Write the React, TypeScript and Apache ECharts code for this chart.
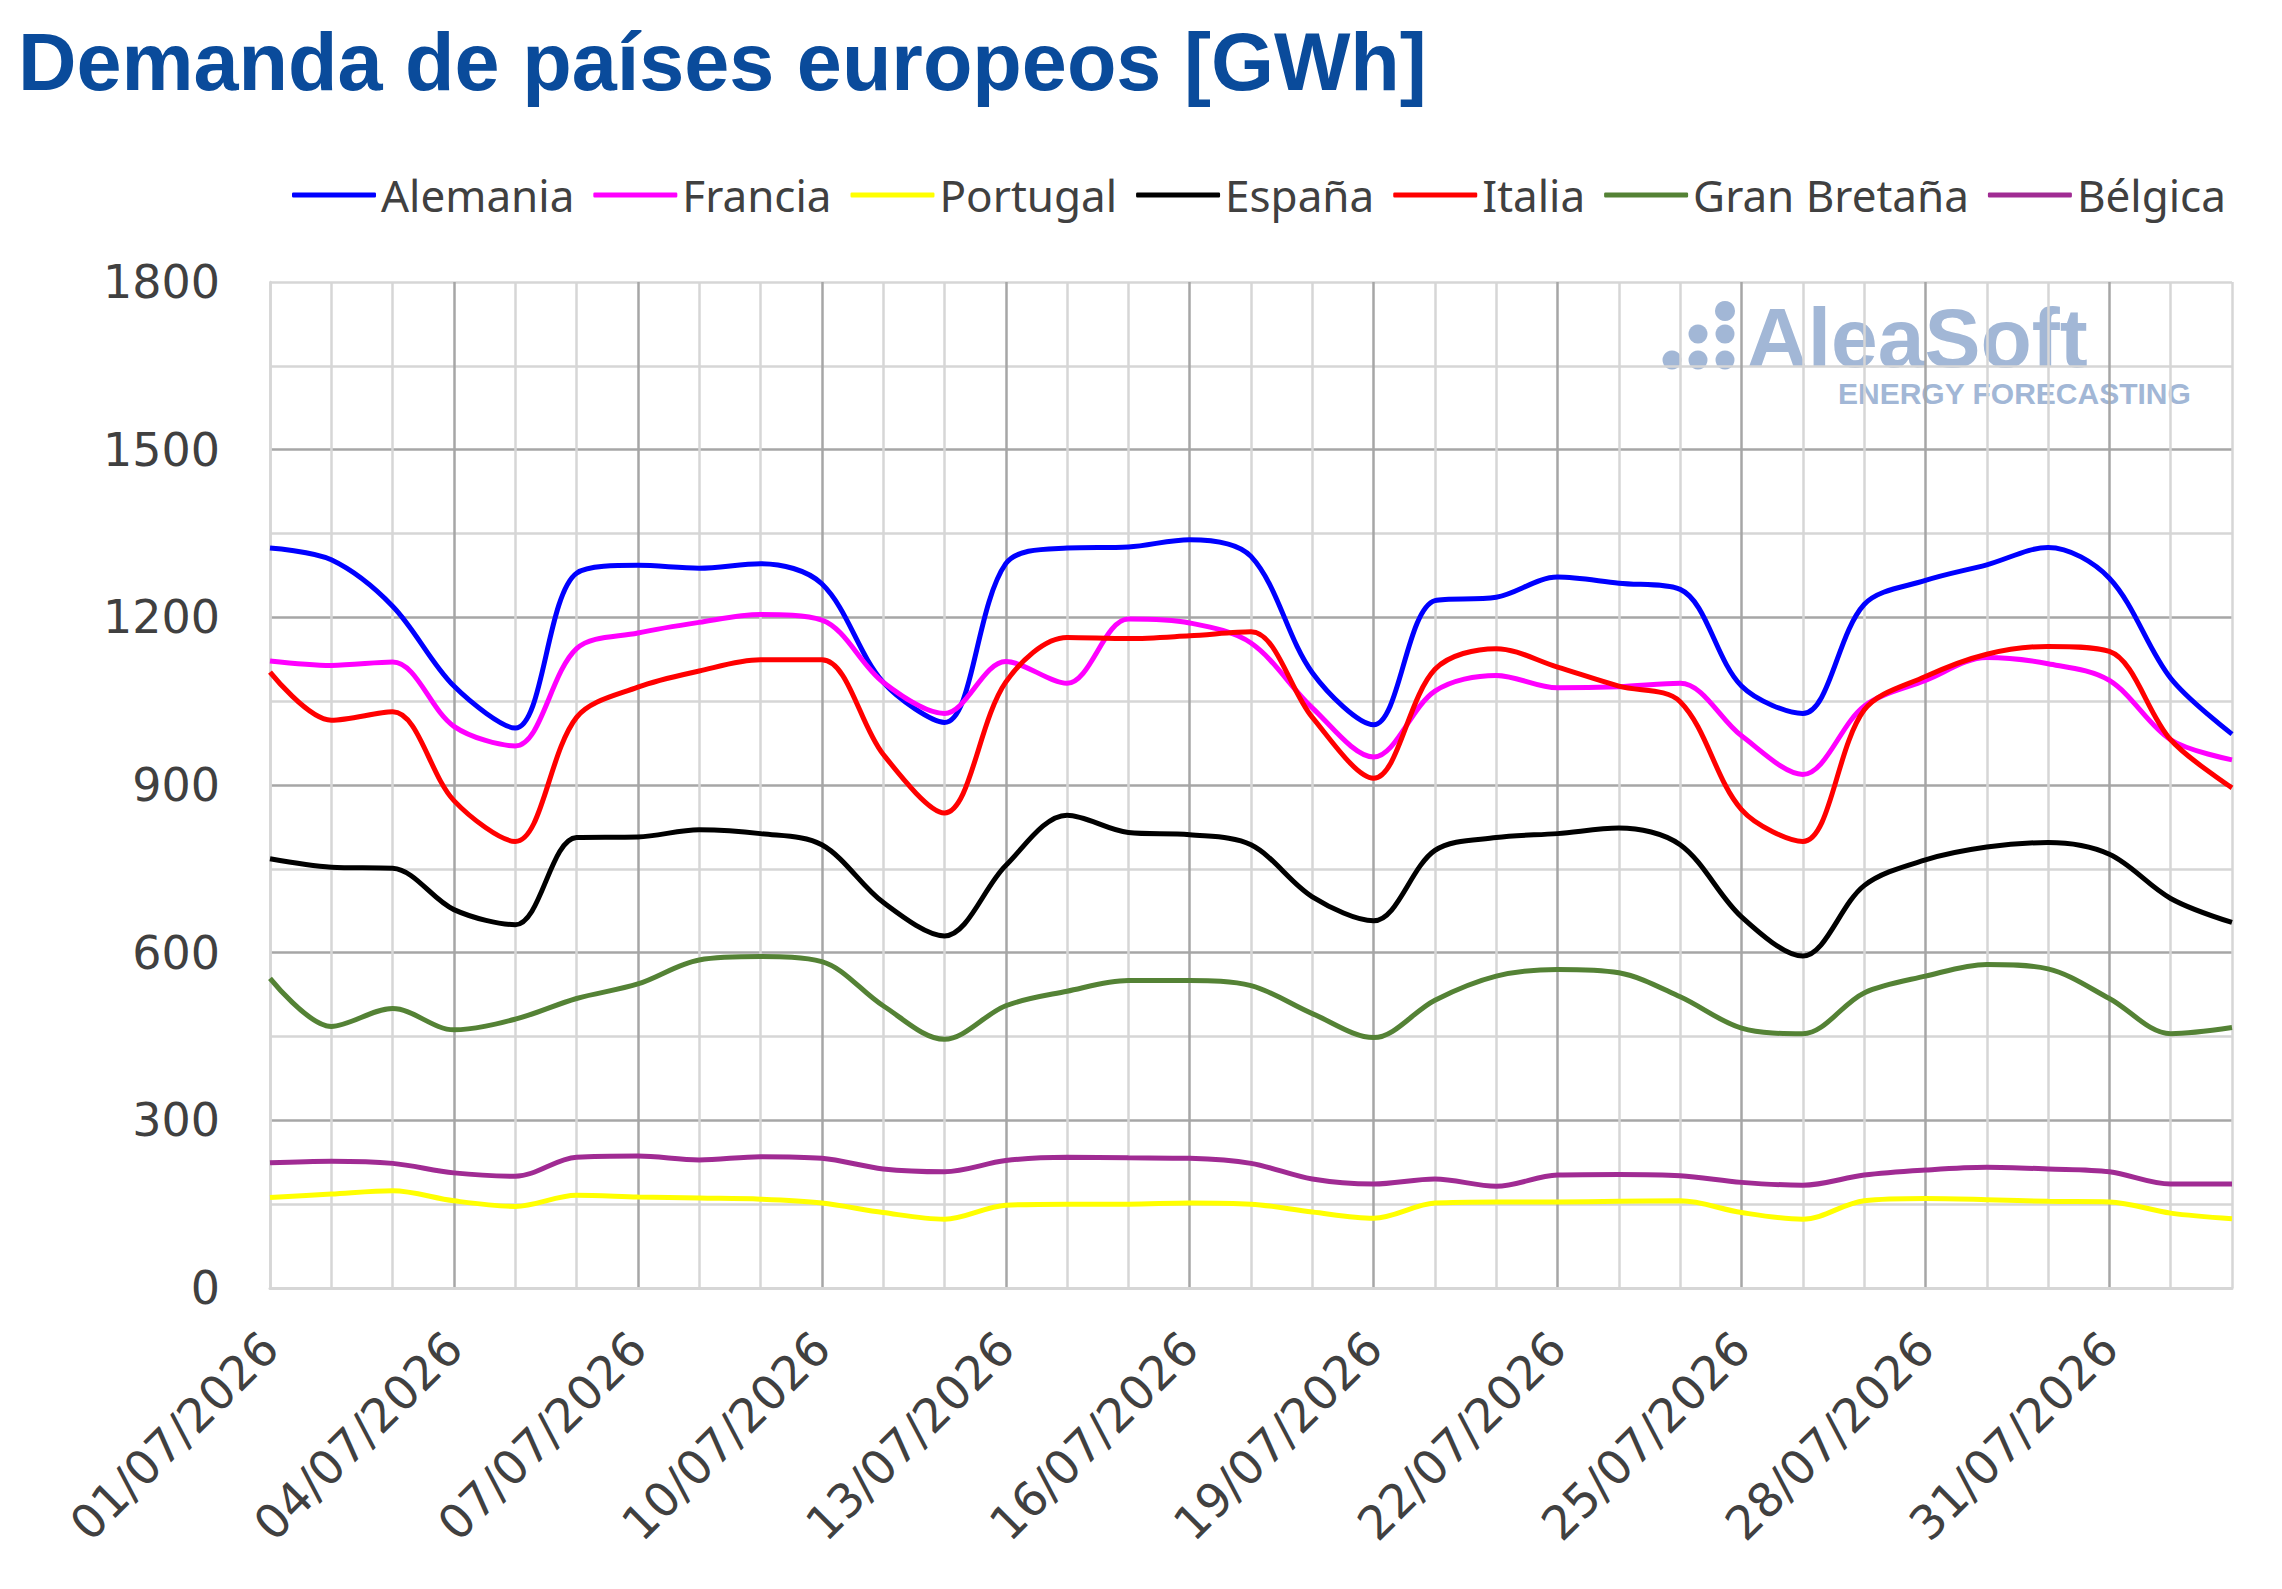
import React, { useEffect, useRef } from "react";
import * as echarts from "echarts";

const dates: string[] = [
  "01/07/2026", "02/07/2026", "03/07/2026", "04/07/2026", "05/07/2026", "06/07/2026",
  "07/07/2026", "08/07/2026", "09/07/2026", "10/07/2026", "11/07/2026", "12/07/2026",
  "13/07/2026", "14/07/2026", "15/07/2026", "16/07/2026", "17/07/2026", "18/07/2026",
  "19/07/2026", "20/07/2026", "21/07/2026", "22/07/2026", "23/07/2026", "24/07/2026",
  "25/07/2026", "26/07/2026", "27/07/2026", "28/07/2026", "29/07/2026", "30/07/2026",
  "31/07/2026", "01/08/2026", "02/08/2026",
];

const alemania = [1324, 1303, 1220, 1077, 1002, 1279, 1293, 1288, 1296, 1260, 1084, 1012, 1296, 1324, 1326, 1339, 1309, 1101, 1008, 1230, 1236, 1272, 1261, 1250, 1077, 1028, 1223, 1266, 1294, 1325, 1270, 1091, 991];
const francia = [1122, 1114, 1120, 1005, 970, 1144, 1172, 1191, 1205, 1195, 1084, 1028, 1121, 1082, 1197, 1190, 1154, 1038, 950, 1068, 1096, 1074, 1076, 1082, 988, 919, 1041, 1087, 1128, 1117, 1087, 981, 945];
const portugal = [162, 168, 174, 156, 146, 166, 163, 161, 159, 152, 135, 123, 148, 150, 150, 152, 150, 136, 125, 152, 154, 154, 155, 156, 135, 123, 156, 160, 158, 155, 154, 134, 124];
const espana = [768, 753, 751, 677, 650, 806, 807, 820, 813, 793, 690, 630, 756, 846, 815, 811, 793, 700, 657, 783, 806, 813, 823, 793, 664, 594, 720, 766, 789, 797, 776, 697, 654];
const italia = [1102, 1016, 1031, 872, 799, 1021, 1075, 1104, 1124, 1124, 955, 850, 1084, 1164, 1162, 1167, 1174, 1021, 912, 1107, 1144, 1111, 1077, 1049, 856, 799, 1034, 1094, 1134, 1148, 1139, 981, 895];
const granBretana = [554, 468, 500, 462, 481, 518, 544, 587, 593, 584, 505, 445, 505, 531, 550, 550, 541, 491, 448, 515, 558, 570, 564, 521, 465, 455, 528, 558, 579, 571, 518, 455, 466];
const belgica = [224, 227, 223, 206, 200, 234, 236, 229, 235, 232, 213, 208, 228, 234, 233, 232, 223, 195, 186, 195, 182, 202, 203, 201, 189, 184, 202, 211, 216, 213, 208, 186, 186];

const seriesNames = ["Alemania", "Francia", "Portugal", "España", "Italia", "Gran Bretaña", "Bélgica"];
const seriesData = [alemania, francia, portugal, espana, italia, granBretana, belgica];
const seriesColors = ["#0000ff", "#ff00ff", "#ffff00", "#000000", "#ff0000", "#548235", "#a02b93"];

const yMax = 1800;
const yMinorStep = 150;
const yLabelStep = 300;

const DARK = "#a6a6a6";
const LIGHT = "#d6d6d6";

export default function App() {
  const ref = useRef<HTMLDivElement>(null);

  useEffect(() => {
    document.body.style.margin = "0";
    if (!ref.current) return;
    const chart = echarts.init(ref.current, undefined, { renderer: "svg" });

    const xLineColors = dates.map((_, i) => (i !== 0 && i % 3 === 0 ? DARK : LIGHT));
    const yCount = yMax / yMinorStep + 1;
    const yLineColors: string[] = [];
    for (let i = 0; i < yCount; i++) {
      const v = i * yMinorStep;
      yLineColors.push(v !== 0 && v !== yMax && v % yLabelStep === 0 ? DARK : LIGHT);
    }

    const wm = "#a2b7d6";

    chart.setOption({
      animation: false,
      backgroundColor: "#ffffff",
      legend: {
        data: seriesNames,
        left: 287,
        top: 165,
        itemWidth: 84,
        itemHeight: 5,
        itemGap: 19,
        icon: "roundRect",
        textStyle: { fontSize: 44, fontFamily: "Noto Sans", color: "#404040", lineHeight: 50 },
      },
      grid: { left: 270, right: 50, top: 282, bottom: 301, containLabel: false },
      xAxis: {
        type: "category",
        data: dates,
        boundaryGap: false,
        axisLine: { show: true, lineStyle: { color: LIGHT, width: 3 } },
        axisTick: { show: false },
        axisLabel: {
          interval: 2,
          rotate: 45,
          margin: 52,
          fontSize: 47,
          fontFamily: "DejaVu Sans",
          color: "#404040",
        },
        splitLine: { show: true, interval: 0, lineStyle: { color: xLineColors, width: 2.5 } },
      },
      yAxis: {
        type: "value",
        min: 0,
        max: yMax,
        interval: yMinorStep,
        axisLine: { show: true, lineStyle: { color: LIGHT, width: 2.5 } },
        axisTick: { show: false },
        axisLabel: {
          margin: 50,
          fontSize: 46,
          fontFamily: "DejaVu Sans",
          color: "#404040",
          formatter: (v: number) => (v % yLabelStep === 0 ? String(v) : ""),
        },
        splitLine: { show: true, lineStyle: { color: yLineColors, width: 2.5 } },
      },
      graphic: [
        {
          type: "text",
          left: 18,
          top: 21,
          style: {
            text: "Demanda de países europeos [GWh]",
            font: 'bold 81px "Liberation Sans"',
            fill: "#0a4b9b",
          },
        },
        { type: "circle", z: -5, shape: { cx: 1725, cy: 311, r: 10 }, style: { fill: wm } },
        { type: "circle", z: -5, shape: { cx: 1698, cy: 334, r: 9.5 }, style: { fill: wm } },
        { type: "circle", z: -5, shape: { cx: 1725, cy: 334, r: 9.5 }, style: { fill: wm } },
        { type: "circle", z: -5, shape: { cx: 1672, cy: 360, r: 9.5 }, style: { fill: wm } },
        { type: "circle", z: -5, shape: { cx: 1698, cy: 360, r: 9.5 }, style: { fill: wm } },
        { type: "circle", z: -5, shape: { cx: 1725, cy: 360, r: 9.5 }, style: { fill: wm } },
        {
          type: "text",
          z: -5,
          x: 1747,
          y: 338,
          style: {
            text: "AleaSoft",
            font: 'bold 84px "Liberation Sans"',
            lineHeight: 60,
            fill: wm,
            textVerticalAlign: "middle",
          },
        },
        {
          type: "text",
          z: -5,
          x: 1838,
          y: 393,
          style: {
            text: "ENERGY FORECASTING",
            font: 'bold 30px "Liberation Sans"',
            lineHeight: 26,
            fill: wm,
            textVerticalAlign: "middle",
          },
        },
      ],
      series: seriesNames.map((name, i) => ({
        name,
        type: "line",
        data: seriesData[i],
        smooth: 0.33,
        showSymbol: false,
        symbol: "none",
        color: seriesColors[i],
        lineStyle: { width: 5, color: seriesColors[i] },
        emphasis: { disabled: true },
      })),
    });

    return () => chart.dispose();
  }, []);

  return <div ref={ref} style={{ width: 2282, height: 1589 }} />;
}
